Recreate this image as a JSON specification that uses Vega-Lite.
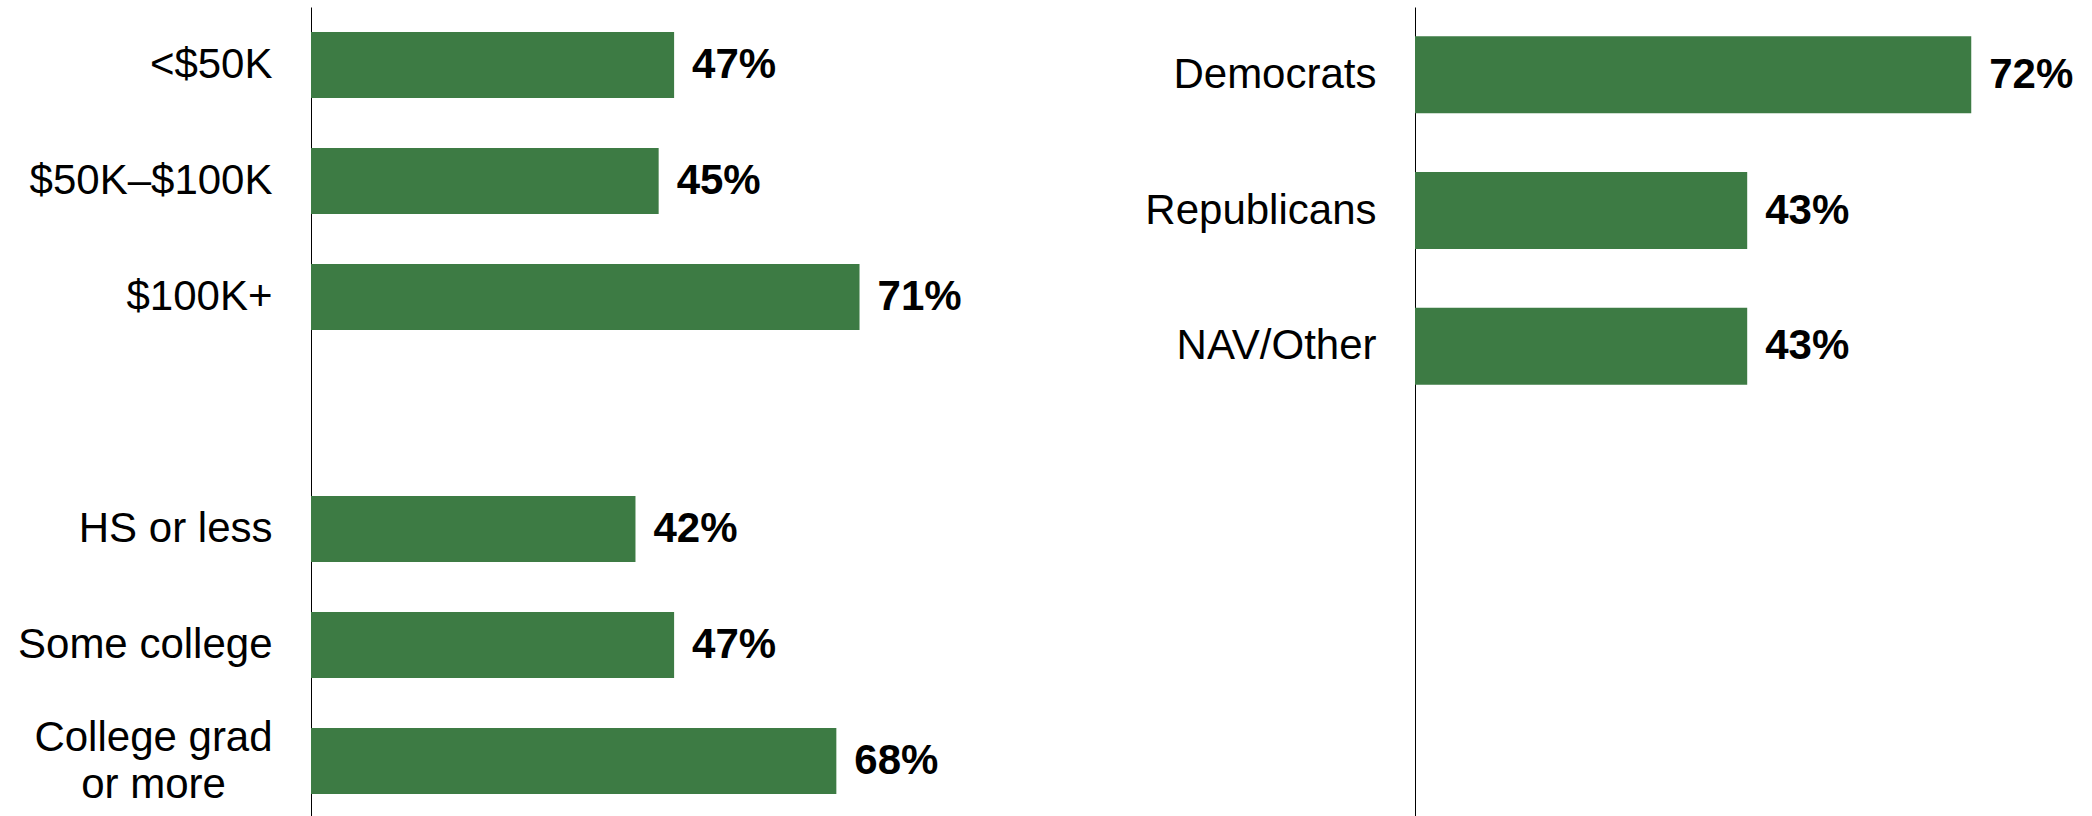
{
  "$schema": "https://vega.github.io/schema/vega-lite/v6.json",
  "background": "white",
  "padding": {"left": 17, "top": 7, "right": 0, "bottom": 0},
  "spacing": 157,
  "config": {
    "view": {"stroke": null},
    "font": "Liberation Sans",
    "axis": {
      "labelFont": "Liberation Sans",
      "labelFontSize": 42,
      "labelColor": "#000000",
      "labelPadding": 39,
      "ticks": false,
      "grid": false,
      "domainColor": "#000000",
      "domainWidth": 1,
      "title": null,
      "labelLimit": 0
    }
  },
  "datasets": {
    "left": [
      {"group": "<$50K", "value": 0.47},
      {"group": "$50K–$100K", "value": 0.45},
      {"group": "$100K+", "value": 0.71},
      {"group": "HS or less", "value": 0.42},
      {"group": "Some college", "value": 0.47},
      {"group": "College grad or more", "value": 0.68}
    ],
    "right": [
      {"group": "Democrats", "value": 0.72},
      {"group": "Republicans", "value": 0.43},
      {"group": "NAV/Other", "value": 0.43}
    ]
  },
  "hconcat": [
    {
      "width": 676,
      "height": 812,
      "data": {"name": "left"},
      "encoding": {
        "y": {
          "field": "group",
          "type": "nominal",
          "sort": null,
          "scale": {
            "domain": ["<$50K", "$50K–$100K", "$100K+", "_gap1", "HS or less", "Some college", "College grad or more"],
            "paddingInner": 0.431,
            "paddingOuter": 0.2155
          },
          "axis": {
            "labelExpr": "indexof(datum.label, '_gap') == 0 ? '' : (datum.label == 'College grad or more' ? ['College grad', 'or more'] : datum.label)",
            "labelLineHeight": 47,
            "labelOffset": {"condition": {"test": "datum.label == 'College grad or more'", "value": -23}, "value": 0},
            "labelAlign": {"condition": {"test": "datum.label == 'College grad or more'", "value": "center"}, "value": "right"},
            "labelPadding": {"condition": {"test": "datum.label == 'College grad or more'", "value": 158}, "value": 39}
          }
        },
        "x": {
          "field": "value",
          "type": "quantitative",
          "scale": {"domain": [0, 0.875], "nice": false},
          "axis": null
        }
      },
      "layer": [
        {"mark": {"type": "bar", "color": "#3d7b44"}},
        {
          "mark": {"type": "text", "align": "left", "baseline": "middle", "dx": 18, "fontSize": 42, "fontWeight": "bold", "color": "#000000", "font": "Liberation Sans"},
          "encoding": {"text": {"field": "value", "type": "quantitative", "format": ".0%"}}
        }
      ]
    },
    {
      "width": 676,
      "height": 814,
      "data": {"name": "right"},
      "encoding": {
        "y": {
          "field": "group",
          "type": "nominal",
          "sort": null,
          "scale": {
            "domain": ["Democrats", "Republicans", "NAV/Other", "_gap1", "_gap2", "_gap3"],
            "paddingInner": 0.433,
            "paddingOuter": 0.2165
          },
          "axis": {
            "labelExpr": "indexof(datum.label, '_gap') == 0 ? '' : datum.label"
          }
        },
        "x": {
          "field": "value",
          "type": "quantitative",
          "scale": {"domain": [0, 0.875], "nice": false},
          "axis": null
        }
      },
      "layer": [
        {"mark": {"type": "bar", "color": "#3d7b44"}},
        {
          "mark": {"type": "text", "align": "left", "baseline": "middle", "dx": 18, "fontSize": 42, "fontWeight": "bold", "color": "#000000", "font": "Liberation Sans"},
          "encoding": {"text": {"field": "value", "type": "quantitative", "format": ".0%"}}
        }
      ]
    }
  ]
}
